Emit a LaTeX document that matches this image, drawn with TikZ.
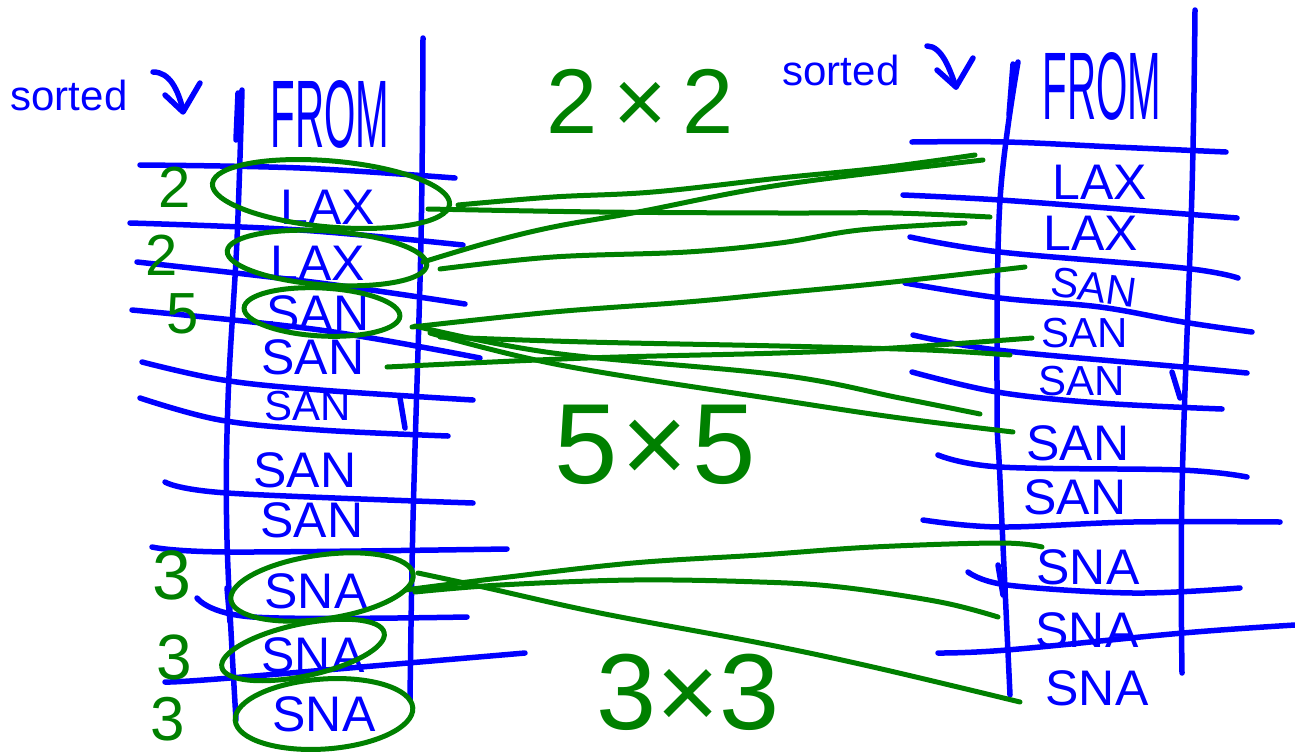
\documentclass[tikz,border=0pt]{standalone}
\usepackage{fontspec}
\setmainfont{Liberation Sans}
\usetikzlibrary{shapes.geometric}
\definecolor{pen}{RGB}{0,0,255}
\definecolor{mark}{RGB}{0,128,0}
\begin{document}
\begin{tikzpicture}[x=1pt,y=-1pt,
  bl/.style={draw=pen,line width=5.5pt,line cap=round,line join=round},
  gl/.style={draw=mark,line width=5pt,line cap=round,line join=round},
  ring/.style={ellipse,draw=mark,line width=5pt,inner sep=0pt},
  lbl/.style={text=pen,inner sep=0pt,font=\fontsize{50}{50}\selectfont},
  small/.style={font=\fontsize{42}{42}\selectfont},
  num/.style={text=mark,inner sep=0pt,font=\fontsize{58}{58}\selectfont},
  big/.style={text=mark,inner sep=0pt,font=\fontsize{114}{114}\selectfont}]
\useasboundingbox (0,0) rectangle (1295,753);

% ---------------- left table ----------------
\node[lbl,font=\fontsize{42}{42}\selectfont] (sortL) at (69,95) {sorted};
\draw[bl] (153,72) .. controls (170,72) and (178,90) .. (183,110);
\draw[bl] (165,95) -- (183,112) -- (200,83);
\node[lbl] (fromL) at (330,114) {\fontsize{96}{96}\selectfont\scalebox{0.42}[1]{FROM}};

% verticals
\draw[bl] plot[smooth,tension=0.6] coordinates {(242,90) (237,240) (228,400) (227,540) (236,720)};
\draw[bl] (238,93) -- (236,140);
\draw[bl] plot[smooth,tension=0.6] coordinates {(423,38) (421,240) (413,520) (410,700)};
\draw[bl] (227,588) -- (230,622);
\draw[bl] (400,398) -- (405,428);

% horizontals
\draw[bl] plot[smooth,tension=0.6] coordinates {(140,165) (300,168) (455,178)};
\draw[bl] plot[smooth,tension=0.6] coordinates {(130,223) (300,230) (463,245)};
\draw[bl] plot[smooth,tension=0.6] coordinates {(137,262) (320,283) (465,304)};
\draw[bl] plot[smooth,tension=0.6] coordinates {(132,310) (320,330) (480,358)};
\draw[bl] plot[smooth,tension=0.6] coordinates {(142,362) (223,380) (320,390) (473,400)};
\draw[bl] plot[smooth,tension=0.6] coordinates {(140,398) (220,420) (320,430) (448,436)};
\draw[bl] plot[smooth,tension=0.6] coordinates {(165,482) (227,493) (473,503)};
\draw[bl] plot[smooth,tension=0.6] coordinates {(152,547) (230,552) (507,549)};
\draw[bl] plot[smooth,tension=0.6] coordinates {(197,598) (253,617) (467,617)};
\draw[bl] plot[smooth,tension=0.6] coordinates {(165,682) (230,678) (525,653)};

% labels
\node[lbl] (lA) at (328,207) {LAX};
\node[lbl] (lB) at (318,263) {LAX};
\node[lbl] (lC) at (318,313) {SAN};
\node[lbl] (lD) at (313,357) {SAN};
\node[lbl,small] (lE) at (308,406) {SAN};
\node[lbl] (lF) at (305,470) {SAN};
\node[lbl] (lG) at (312,520) {SAN};
\node[lbl] (lH) at (316,591) {SNA};
\node[lbl] (lI) at (313,655) {SNA};
\node[lbl] (lJ) at (324,714) {SNA};

% green rings
\node[ring,minimum width=238pt,minimum height=66pt,rotate=-5] (eA) at (331,194) {};
\node[ring,minimum width=200pt,minimum height=54pt,rotate=-4] (eB) at (327,258) {};
\node[ring,minimum width=156pt,minimum height=48pt,rotate=-3] (eC) at (322,312) {};
\node[ring,minimum width=184pt,minimum height=64pt,rotate=8] (eH) at (322,587) {};
\node[ring,minimum width=166pt,minimum height=52pt,rotate=12] (eI) at (303,650) {};
\node[ring,minimum width=178pt,minimum height=70pt,rotate=4] (eJ) at (324,714) {};

% green counts
\node[num] (n1) at (175,187) {2};
\node[num] (n2) at (162,255) {2};
\node[num] (n3) at (183,314) {5};
\node[num,font=\fontsize{70}{70}\selectfont] (n4) at (172,575) {3};
\node[num,font=\fontsize{64}{64}\selectfont] (n5) at (174,657) {3};
\node[num,font=\fontsize{62}{62}\selectfont] (n6) at (168,719) {3};

% ---------------- right table ----------------
\node[lbl,font=\fontsize{42}{42}\selectfont] (sortR) at (841,70) {sorted};
\draw[bl] (927,46) .. controls (942,46) and (950,70) .. (956,87);
\draw[bl] (937,70) -- (956,87) -- (973,58);
\node[lbl] (fromR) at (1102,86) {\fontsize{96}{96}\selectfont\scalebox{0.42}[1]{FROM}};

\draw[bl] plot[smooth,tension=0.6] coordinates {(1018,62) (1000,200) (997,400) (1000,480) (1010,695)};
\draw[bl] (1013,64) -- (1009,115);
\draw[bl] plot[smooth,tension=0.6] coordinates {(1195,10) (1192,190) (1182,490) (1182,673)};
\draw[bl] (998,565) -- (1003,595);
\draw[bl] (1172,372) -- (1180,398);

\draw[bl] plot[smooth,tension=0.6] coordinates {(912,142) (1006,142) (1115,147) (1226,152)};
\draw[bl] plot[smooth,tension=0.6] coordinates {(903,195) (1000,200) (1133,210) (1237,218)};
\draw[bl] plot[smooth,tension=0.6] coordinates {(910,237) (1000,252) (1183,268) (1238,278)};
\draw[bl] plot[smooth,tension=0.6] coordinates {(905,283) (1000,298) (1100,307) (1183,322) (1252,332)};
\draw[bl] plot[smooth,tension=0.6] coordinates {(913,335) (997,350) (1183,367) (1247,373)};
\draw[bl] plot[smooth,tension=0.6] coordinates {(912,372) (997,392) (1100,403) (1222,409)};
\draw[bl] plot[smooth,tension=0.6] coordinates {(938,455) (1000,467) (1180,470) (1247,477)};
\draw[bl] plot[smooth,tension=0.6] coordinates {(923,520) (1000,527) (1133,522) (1280,522)};
\draw[bl] plot[smooth,tension=0.6] coordinates {(968,572) (1007,585) (1133,593) (1240,588)};
\draw[bl] plot[smooth,tension=0.6] coordinates {(938,653) (1007,650) (1183,633) (1295,625)};

\node[lbl] (rA) at (1100,182) {LAX};
\node[lbl] (rB) at (1091,233) {LAX};
\node[lbl,font=\fontsize{42}{42}\selectfont,rotate=-8] (rC) at (1094,287) {SAN};
\node[lbl,font=\fontsize{42}{42}\selectfont] (rD) at (1085,333) {SAN};
\node[lbl,small] (rE) at (1082,381) {SAN};
\node[lbl] (rF) at (1078,443) {SAN};
\node[lbl] (rG) at (1075,497) {SAN};
\node[lbl] (rH) at (1088,567) {SNA};
\node[lbl] (rI) at (1087,630) {SNA};
\node[lbl] (rJ) at (1097,688) {SNA};

% ---------------- products ----------------
\node[big,font=\fontsize{92}{92}\selectfont] (p1) at (640,101) {2\,×\,2};
\node[big] (p2) at (655,445) {5\kern4pt×\kern4pt5};
\node[big,font=\fontsize{108}{108}\selectfont] (p3) at (688,692) {3×3};

% ---------------- connectors ----------------
\coordinate (a1) at (458,205);  \coordinate (a2) at (975,155);
\coordinate (b1) at (428,209);  \coordinate (b2) at (990,217);
\coordinate (c1) at (423,262);  \coordinate (c2) at (983,160);
\coordinate (d1) at (440,269);  \coordinate (d2) at (965,223);
\coordinate (e1) at (412,327);  \coordinate (e2) at (1025,267);
\coordinate (f1) at (440,337);  \coordinate (f2) at (1010,355);
\coordinate (g1) at (387,367);  \coordinate (g2) at (1032,338);
\coordinate (h1) at (415,326);  \coordinate (h2) at (980,414);
\coordinate (i1) at (430,333);  \coordinate (i2) at (1013,432);
\coordinate (j1) at (405,590);  \coordinate (j2) at (1042,547);
\coordinate (k1) at (415,592);  \coordinate (k2) at (998,617);
\coordinate (l1) at (418,573);  \coordinate (l2) at (1020,702);

\draw[gl] plot[smooth,tension=0.6] coordinates {(a1) (553,197) (653,192) (780,178) (880,168) (a2)};
\draw[gl] plot[smooth,tension=0.6] coordinates {(b1) (600,212) (780,213) (893,213) (b2)};
\draw[gl] plot[smooth,tension=0.6] coordinates {(c1) (487,243) (553,227) (638,212) (780,185) (c2)};
\draw[gl] plot[smooth,tension=0.6] coordinates {(d1) (553,257) (687,252) (780,243) (860,230) (d2)};
\draw[gl] plot[smooth,tension=0.6] coordinates {(e1) (553,312) (687,302) (780,293) (893,282) (e2)};
\draw[gl] plot[smooth,tension=0.6] coordinates {(f1) (587,342) (780,346) (927,350) (f2)};
\draw[gl] plot[smooth,tension=0.6] coordinates {(g1) (587,358) (780,353) (893,348) (g2)};
\draw[gl] plot[smooth,tension=0.6] coordinates {(h1) (553,353) (780,375) (900,398) (h2)};
\draw[gl] plot[smooth,tension=0.6] coordinates {(i1) (560,365) (780,400) (900,418) (i2)};
\draw[gl] plot[smooth,tension=0.6] coordinates {(j1) (500,578) (633,563) (760,555) (873,547) (1000,543) (j2)};
\draw[gl] plot[smooth,tension=0.6] coordinates {(k1) (500,585) (633,580) (760,582) (840,587) (940,602) (k2)};
\draw[gl] plot[smooth,tension=0.6] coordinates {(l1) (483,587) (600,613) (760,643) (873,667) (l2)};
\end{tikzpicture}
\end{document}
